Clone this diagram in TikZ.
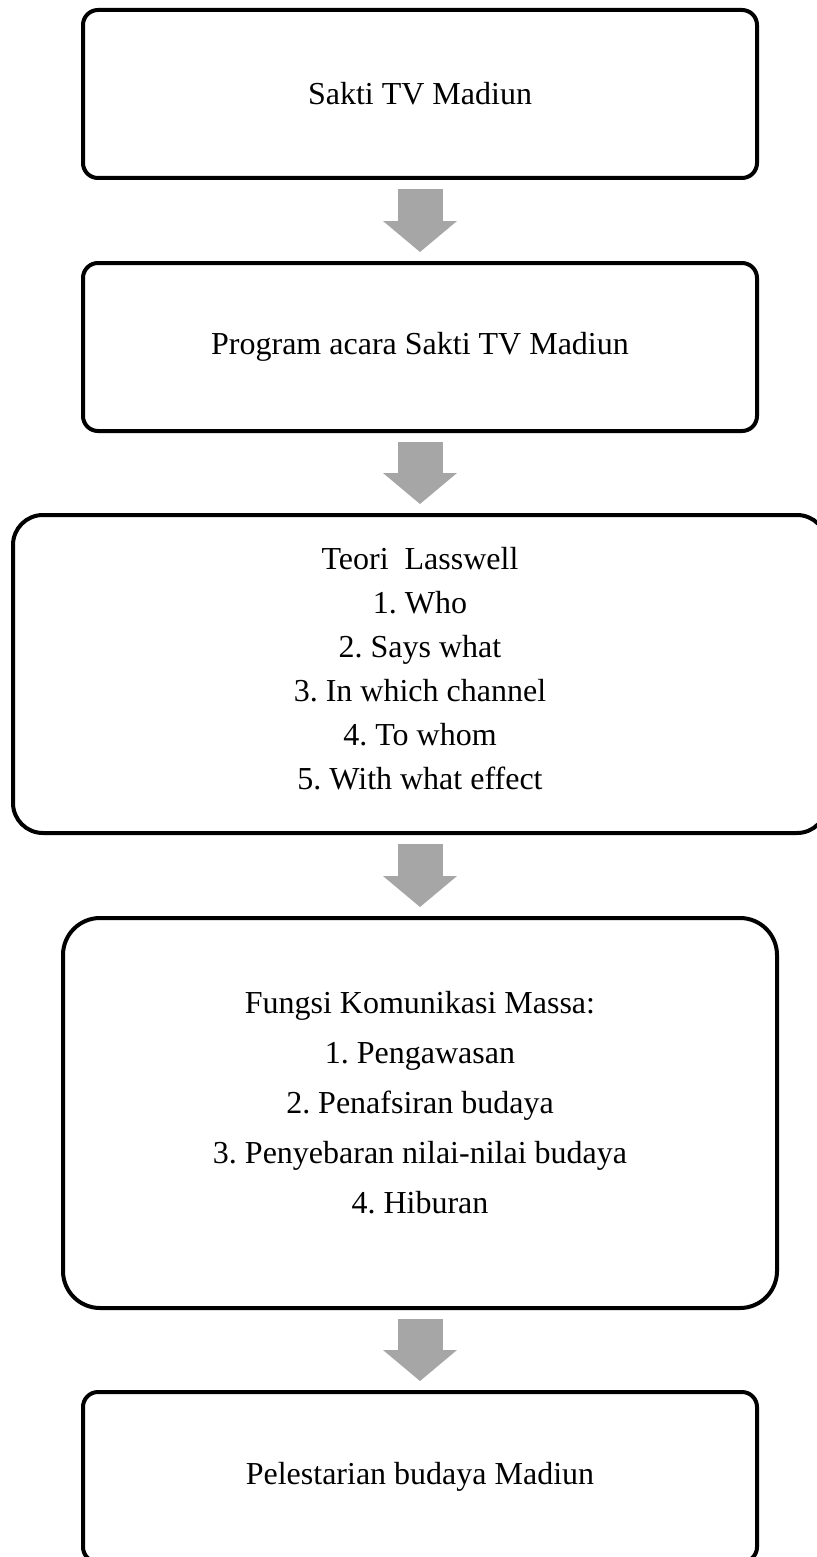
\documentclass[tikz,border=0pt]{standalone}
\usepackage{fontspec}
\setmainfont{Liberation Serif}
\usetikzlibrary{arrows.meta}
\definecolor{arrowgray}{HTML}{A6A6A6}
\frenchspacing
\tikzset{
  flowbox/.style={draw=black, line width=4pt, outer sep=0pt, inner sep=0pt, align=center, font=\fontsize{32}{44}\selectfont},
  blockarrow/.style={draw=arrowgray, line width=45pt, -{Triangle[length=31pt,width=74pt,line width=0pt]}}
}
\begin{document}
\begin{tikzpicture}[x=1pt,y=1pt]
\pgfmathsetmacro{\boxw}{674}
\pgfmathsetmacro{\gap}{11}
\useasboundingbox (0,0) rectangle (816,-1557);
\node[flowbox, rounded corners=15pt, minimum width=\boxw pt, minimum height=168pt] (sakti) at (420,-94) {Sakti TV Madiun};
\node[flowbox, rounded corners=15pt, minimum width=\boxw pt, minimum height=168pt] (program) at (420,-347) {Program acara Sakti TV Madiun};
\node[flowbox, rounded corners=30pt, minimum width=814pt, minimum height=318pt, text depth=12pt] (lasswell) at (420,-674) {Teori\ \ Lasswell\\1. Who\\2. Says what\\3. In which channel\\4. To whom\\5. With what effect};
\node[flowbox, rounded corners=37pt, minimum width=714pt, minimum height=390pt, text depth=22pt, font=\fontsize{32}{50}\selectfont] (fungsi) at (420,-1113) {Fungsi Komunikasi Massa:\\1. Pengawasan\\2. Penafsiran budaya\\3. Penyebaran nilai-nilai budaya\\4. Hiburan};
\node[flowbox, rounded corners=15pt, minimum width=\boxw pt, minimum height=170pt] (pelestarian) at (420,-1477) {Pelestarian budaya Madiun};
\draw[blockarrow] ([yshift=-\gap pt]sakti.south) -- ([yshift=\gap pt]program.north);
\draw[blockarrow] ([yshift=-\gap pt]program.south) -- ([yshift=\gap pt]lasswell.north);
\draw[blockarrow] ([yshift=-\gap pt]lasswell.south) -- ([yshift=\gap pt]fungsi.north);
\draw[blockarrow] ([yshift=-\gap pt]fungsi.south) -- ([yshift=\gap pt]pelestarian.north);
\end{tikzpicture}
\end{document}
